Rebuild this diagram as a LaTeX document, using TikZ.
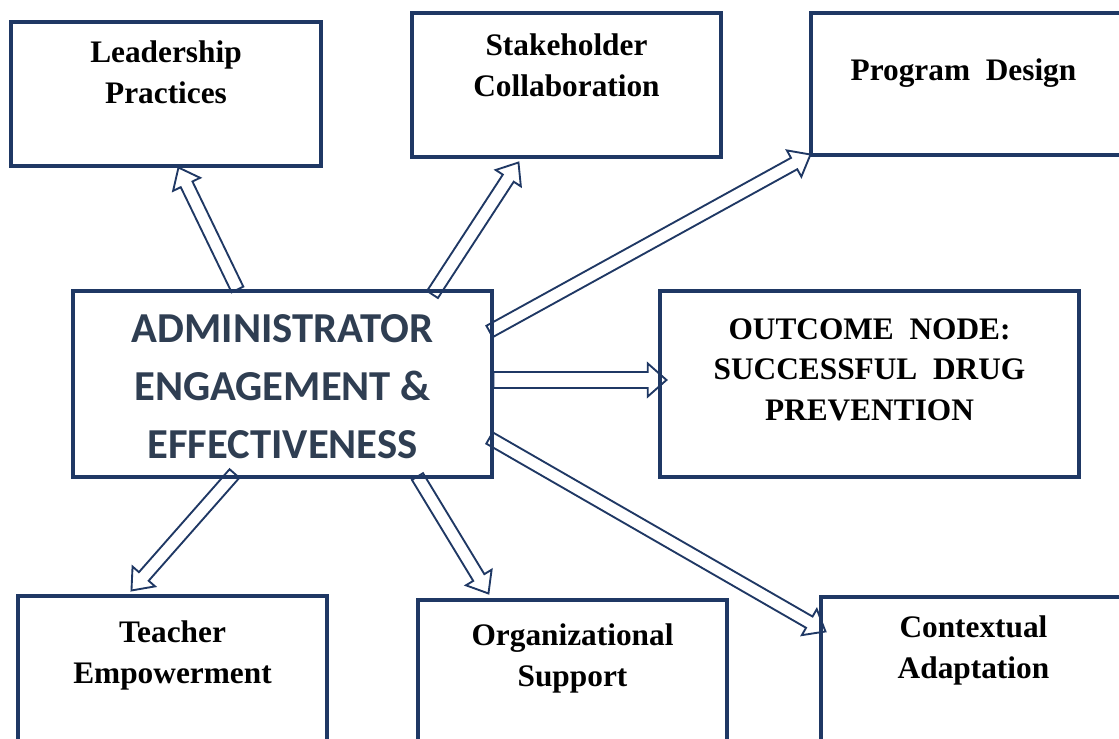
\documentclass[tikz,border=0pt]{standalone}
\usepackage{fontspec}
\setmainfont{Liberation Serif}
\newfontfamily\centerfont{Carlito}
\usetikzlibrary{calc,fit}

\definecolor{boxblue}{HTML}{1F3864}
\definecolor{slatetext}{HTML}{2F3E52}

\tikzset{
  box/.style={draw=boxblue, line width=2.3pt, inner sep=0pt},
  boxtext/.style={align=center, anchor=base, inner sep=0pt, font=\bfseries\fontsize{23.5}{30.5}\selectfont},
  hollow/.style={draw=boxblue, line width=1.4pt, line join=miter},
}

% Flèche creuse : #1 demi-largeur du corps, #2 départ, #3 pointe
\newcommand{\hollowarrow}[3][6.5]{%
  \pgfmathsetmacro{\arrsw}{#1*0.75}%
  \pgfmathsetmacro{\arrhw}{(#1+8.5)*0.75}%
  \coordinate (hb) at ($(#3)!14pt!(#2)$);
  \draw[hollow] ($(#2)!\arrsw pt!-90:(#3)$) -- ($(hb)!\arrsw pt!-90:(#3)$)
    -- ($(hb)!\arrhw pt!-90:(#3)$) -- (#3) -- ($(hb)!\arrhw pt!90:(#3)$)
    -- ($(hb)!\arrsw pt!90:(#3)$) -- ($(#2)!\arrsw pt!90:(#3)$) -- cycle;
}

\begin{document}
\begin{tikzpicture}[x=0.75pt,y=-0.75pt]
    % Cadre de la figure
    \useasboundingbox (0,0) rectangle (1119,738);
    \clip (0,0) rectangle (1119,738);
    \fill[white] (0,0) rectangle (1119,738);

    % Boîtes
    \node[box, fit={(11,22) (321,166)}] (lead) {};
    \node[box, fit={(412,13) (721,157)}] (stake) {};
    \node[box, fit={(811,13) (1135,155)}] (prog) {};
    \node[box, fit={(73,291) (492,477)}] (admin) {};
    \node[box, fit={(660,291) (1079,477)}] (outcome) {};
    \node[box, fit={(18,596) (327,760)}] (teach) {};
    \node[box, fit={(418,600) (727,760)}] (org) {};
    \node[box, fit={(821,597) (1135,760)}] (context) {};

    % Textes des boîtes (ancre sur la dernière ligne)
    \node[boxtext] (leadtext) at ($(lead.north)+(0,83)$) {Leadership\\Practices};
    \node[boxtext] (staketext) at ($(stake.north)+(0,85)$) {Stakeholder\\Collaboration};
    \node[boxtext] (progtext) at ($(prog.north west)+(154,69)$) {Program\ \ Design};
    \node[boxtext] (outcometext) at ($(outcome.north)+(0,131)$) {OUTCOME\ \ NODE:\\SUCCESSFUL\ \ DRUG\\PREVENTION};
    \node[boxtext] (teachtext) at ($(teach.north)+(0,89)$) {Teacher\\Empowerment};
    \node[boxtext] (orgtext) at ($(org.north)+(0,88)$) {Organizational\\Support};
    \node[boxtext] (contexttext) at ($(context.north west)+(154,83)$) {Contextual\\Adaptation};
    \node[align=center, anchor=base, inner sep=0pt, text=slatetext,
          font=\centerfont\bfseries\fontsize{32}{43.5}\selectfont]
          (admintext) at ($(admin.north)+(0,169)$) {ADMINISTRATOR\\ENGAGEMENT \&\\EFFECTIVENESS};

    % Points de départ et d'arrivée des flèches
    \coordinate (leadtail) at ($(admin.north west)+(166,0)$);
    \coordinate (leadtip) at ($(lead.south west)+(169,0)$);
    \coordinate (staketail) at ($(admin.north west)+(361,5)$);
    \coordinate (staketip) at ($(stake.south west)+(108,4)$);
    \coordinate (progtail) at ($(admin.north east)+(-4,42)$);
    \coordinate (progtip) at ($(prog.south west)+(1,-2)$);
    \coordinate (outtail) at ($(admin.east)+(0,-4)$);
    \coordinate (outtip) at ($(outcome.west)+(8,-4)$);
    \coordinate (teachtail) at ($(admin.south west)+(163,-5)$);
    \coordinate (teachtip) at ($(teach.north west)+(115,-4)$);
    \coordinate (orgtail) at ($(admin.south west)+(346,-2)$);
    \coordinate (orgtip) at ($(org.north west)+(72,-5)$);
    \coordinate (contexttail) at ($(admin.east)+(-4,54)$);
    \coordinate (contexttip) at ($(context.north west)+(6,36)$);

    % Flèches
    \hollowarrow{leadtail}{leadtip}
    \hollowarrow{staketail}{staketip}
    \hollowarrow{progtail}{progtip}
    \hollowarrow[8]{outtail}{outtip}
    \hollowarrow{teachtail}{teachtip}
    \hollowarrow{orgtail}{orgtip}
    \hollowarrow{contexttail}{contexttip}
\end{tikzpicture}
\end{document}
